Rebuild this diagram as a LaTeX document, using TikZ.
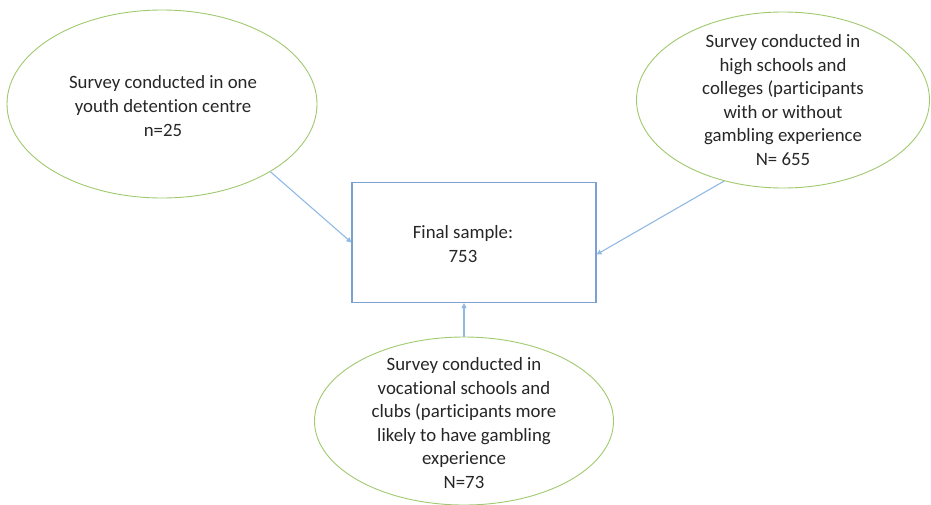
\documentclass[tikz,border=0pt]{standalone}
\usepackage{fontspec}
\setmainfont{Carlito}[Ligatures=NoCommon]
\usetikzlibrary{arrows.meta,shapes.geometric}

\definecolor{ovalgreen}{RGB}{160,200,110}
\definecolor{boxblue}{RGB}{125,160,210}
\definecolor{linkblue}{RGB}{145,185,228}

\begin{document}
\begin{tikzpicture}[x=1pt,y=-1pt,
    oval/.style={draw=ovalgreen,line width=0.9pt,ellipse,inner sep=0pt},
    ovaltext/.style={align=center,font=\fontsize{18.8}{23.6}\selectfont,text=black!85},
    link/.style={draw=linkblue,line width=1.1pt,-{Triangle[length=5pt,width=5pt]}}]

  \useasboundingbox (0,0) rectangle (931,504);

  % the three surveys
  \node[oval,minimum width=310,minimum height=188] (detention) at (162,104) {};
  \node[ovaltext] (detentiontxt) at (163,106) {Survey conducted in one\\youth detention centre\\n=25};

  \node[oval,minimum width=293,minimum height=176] (highschool) at (783,100) {};
  \node[ovaltext] (highschooltxt) at (783,100) {Survey conducted in\\high schools and\\colleges (participants\\with or without\\gambling experience\\N= 655};

  \node[oval,minimum width=299,minimum height=168] (vocational) at (464,421) {};
  \node[ovaltext] (vocationaltxt) at (464,423) {Survey conducted in\\vocational schools and\\clubs (participants more\\likely to have gambling\\experience\\N=73};

  % final sample
  \node[draw=boxblue,line width=1.1pt,minimum width=244,minimum height=120,inner sep=0pt] (final) at (474,242.5) {};
  \node[ovaltext] (finaltxt) at (463,244) {Final sample:\\753};

  \draw[link] (detention.-32) -- (final.west);
  \draw[link] (highschool.234) -- ([yshift=-12pt]final.east);
  \draw[link] (vocational.north) -- (vocational.north |- final.south);

\end{tikzpicture}
\end{document}
